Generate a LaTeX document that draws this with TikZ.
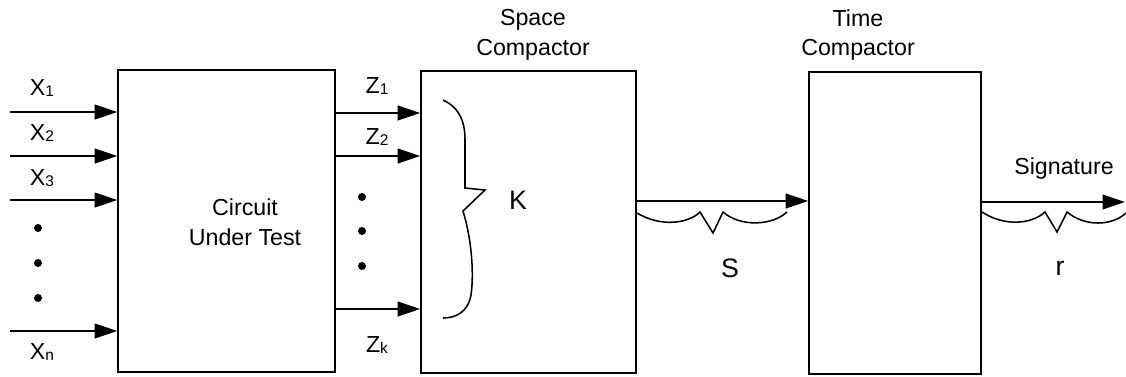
\documentclass[tikz,border=0pt]{standalone}
\usepackage{fontspec}
\setmainfont{Liberation Sans}
\usepackage{tikz}
\usetikzlibrary{arrows.meta,positioning,calc}
\newcommand{\lsub}[1]{\raisebox{-1.2pt}{\fontsize{11}{12}\selectfont#1}}

\begin{document}
\begin{tikzpicture}[x=0.025cm,y=-0.025cm,font=\fontsize{16.5}{21}\selectfont,
  blk/.style={draw,line width=1.1pt,inner sep=0pt},
  sig/.style={line width=1.1pt,-{Triangle[length=16pt,width=10.5pt]}},
  brc/.style={line width=1.1pt,line join=miter},
  lbl/.style={inner sep=0pt,align=center}]
\useasboundingbox (0,0) rectangle (1126,376);
% blocks
\node[blk,minimum width=217*0.025cm,minimum height=302*0.025cm] (cut) at (226.5,221) {};
\node[blk,minimum width=215*0.025cm,minimum height=302*0.025cm] (spc) at (528.5,222) {};
\node[blk,minimum width=172*0.025cm,minimum height=302*0.025cm] (tim) at (895,223) {};
\node[lbl] (cutl) at (245,222) {Circuit\\Under Test};
\node[lbl] (spcl) at (533,35) {Space\\Compactor};
\node[lbl] (timl) at (858,35) {Time\\Compactor};
% inputs
\coordinate (x1) at (10,112);
\coordinate (x2) at (10,156);
\coordinate (x3) at (10,200);
\coordinate (xn) at (10,331);
\foreach \i in {x1,x2,x3,xn}
  \draw[sig] (\i) -- (\i -| cut.west);
\node[lbl] (lx1) at (42,88) {X\lsub{1}};
\node[lbl] (lx2) at (42,133) {X\lsub{2}};
\node[lbl] (lx3) at (42,178) {X\lsub{3}};
\node[lbl] (lxn) at (42,352) {X\lsub{n}};
\foreach \y in {228,263,298}
  \fill (38,\y) circle (4);
% outputs of the circuit
\coordinate (z1) at (421,113);
\coordinate (z2) at (421,156);
\coordinate (zk) at (421,309);
\foreach \i in {z1,z2,zk}
  \draw[sig] (cut.east |- \i) -- (spc.west |- \i);
\node[lbl] (lz1) at (377,86) {Z\lsub{1}};
\node[lbl] (lz2) at (377,137) {Z\lsub{2}};
\node[lbl] (lzk) at (377,345) {Z\lsub{k}};
\foreach \y in {197,231,266}
  \fill (362,\y) circle (4);
% brace K
\draw[brc] (443,100) .. controls (460,108) and (465,122) .. (465,140) -- (465,188)
  -- (485,190) -- (463,211) .. controls (472,240) and (474,275) .. (471,295)
  .. controls (468,312) and (456,318) .. (443,318);
\node[lbl] (k) at (518,200) {\fontsize{19}{21}\selectfont K};
% S bus
\coordinate (s) at (636,201);
\draw[sig] (spc.east |- s) -- (tim.west |- s);
\draw[brc] (637,213) .. controls (660,227) and (688,224) .. (700,212) -- (713,233)
  -- (723,212) .. controls (740,227) and (772,226) .. (787,212);
\node[lbl] (sl) at (730,268) {\fontsize{19}{21}\selectfont S};
% signature
\coordinate (r) at (1125,202);
\draw[sig] (tim.east |- r) -- (r);
\draw[brc] (982,212) .. controls (1005,227) and (1032,224) .. (1045,212) -- (1057,232)
  -- (1067,212) .. controls (1085,227) and (1112,226) .. (1126,213);
\node[lbl] (sgl) at (1064,168) {Signature};
\node[lbl] (rl) at (1060,268) {\fontsize{19}{21}\selectfont r};
\end{tikzpicture}
\end{document}
